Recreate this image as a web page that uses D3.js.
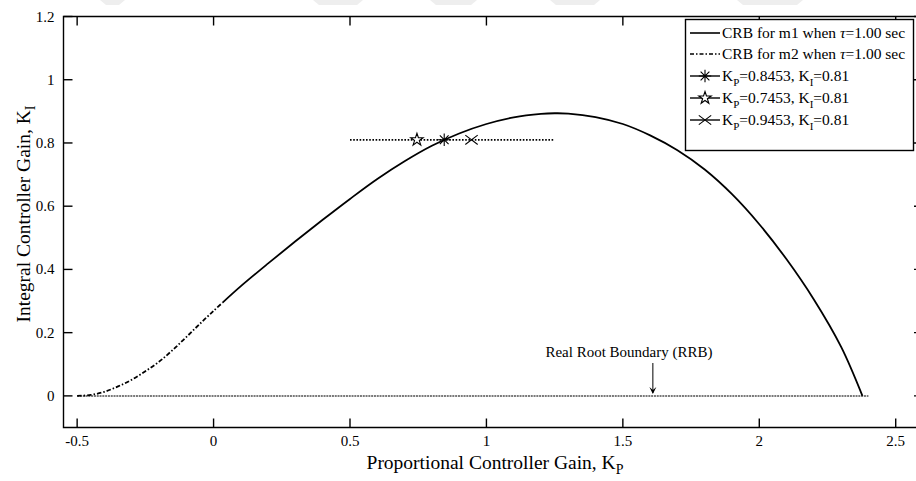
<!DOCTYPE html>
<html>
<head>
<meta charset="utf-8">
<script src="https://cdn.jsdelivr.net/npm/d3@7"></script>
<style>
  html, body { margin: 0; padding: 0; background: #fff; }
  svg { display: block; font-family: "Liberation Serif", "Times New Roman", serif; }
</style>
</head>
<body>
<svg id="chart" width="916" height="481"></svg>
<script>
// Stability boundary curves (Kp, Ki) for the two models
const crbM2 = [
  [-0.5, 0], [-0.45, 0.003], [-0.4, 0.013], [-0.35, 0.03], [-0.3, 0.051],
  [-0.25, 0.078], [-0.2, 0.108], [-0.15, 0.145], [-0.1, 0.186], [-0.05, 0.228],
  [0, 0.269], [0.033, 0.295]
];
const crbM1 = [
  [0.033, 0.295], [0.1, 0.347], [0.2, 0.419], [0.3, 0.489], [0.4, 0.557],
  [0.5, 0.623], [0.6, 0.686], [0.7, 0.742], [0.8, 0.791], [0.9, 0.83],
  [1.0, 0.86], [1.1, 0.881], [1.2, 0.892], [1.25, 0.894], [1.3, 0.893],
  [1.4, 0.882], [1.5, 0.86], [1.6, 0.824], [1.7, 0.777], [1.8, 0.716],
  [1.9, 0.638], [2.0, 0.543], [2.1, 0.432], [2.2, 0.305], [2.3, 0.155], [2.378, 0]
];
// Real root boundary (Ki = 0)
const rrbLine = [[-0.5, 0], [2.4, 0]];
// Sweep of Kp at fixed Ki
const sweepLine = [[0.5, 0.81], [1.25, 0.81]];
// Operating points
const pointsKp = [0.8453, 0.7453, 0.9453];
const pointsKi = [0.81, 0.81, 0.81];
const pointShapes = ["asterisk", "star", "cross"];

const xTicks = [-0.5, 0, 0.5, 1, 1.5, 2, 2.5];
const xTickLabels = ["-0.5", "0", "0.5", "1", "1.5", "2", "2.5"];
const yTicks = [0, 0.2, 0.4, 0.6, 0.8, 1, 1.2];
const yTickLabels = ["0", "0.2", "0.4", "0.6", "0.8", "1", "1.2"];
const xDomain = [-0.55, 2.6];
const yDomain = [-0.1, 1.2];

const svg = d3.select("#chart");
const plotL = 63.5, plotR = 923, plotT = 16.5, plotB = 427.5;
const x = d3.scaleLinear().domain(xDomain).range([plotL, plotR]);
const y = d3.scaleLinear().domain(yDomain).range([plotB, plotT]);

// faint background bands at the top edge
const bands = [[100, 125], [313, 363], [430, 477], [550, 600], [737, 803]];
svg.append("g").selectAll("path").data(bands).join("path")
  .attr("d", d => `M${d[0]},0 L${d[1]},0 L${d[1] - 6},5 L${d[0] + 6},5 Z`)
  .attr("fill", "#eeeeee");

const tickLen = 9;
const axes = svg.append("g").attr("stroke", "#000").attr("stroke-width", 1.4);
// ticks on all four sides, pointing inward
axes.selectAll(".xb").data(xTicks).join("line").attr("class", "xb")
  .attr("x1", d => x(d)).attr("x2", d => x(d))
  .attr("y1", plotB).attr("y2", plotB - tickLen);
axes.selectAll(".xt").data(xTicks).join("line").attr("class", "xt")
  .attr("x1", d => x(d)).attr("x2", d => x(d))
  .attr("y1", plotT).attr("y2", plotT + tickLen);
axes.selectAll(".yl").data(yTicks).join("line").attr("class", "yl")
  .attr("x1", plotL).attr("x2", plotL + tickLen)
  .attr("y1", d => y(d)).attr("y2", d => y(d));
axes.selectAll(".yr").data(yTicks).join("line").attr("class", "yr")
  .attr("x1", plotR).attr("x2", plotR - tickLen)
  .attr("y1", d => y(d)).attr("y2", d => y(d));
axes.append("path")
  .attr("fill", "none")
  .attr("d", `M${plotR},${plotT} L${plotL},${plotT} L${plotL},${plotB} L${plotR},${plotB}`);

// tick labels
svg.append("g").selectAll("text").data(xTicks).join("text")
  .attr("x", d => x(d)).attr("y", plotB + 18)
  .attr("text-anchor", "middle")
  .attr("font-size", 15).text((d, i) => xTickLabels[i]);
svg.append("g").selectAll("text").data(yTicks).join("text")
  .attr("x", plotL - 9).attr("y", d => y(d) + 5)
  .attr("text-anchor", "end")
  .attr("font-size", 15).text((d, i) => yTickLabels[i]);

// axis titles
const xt = svg.append("text").attr("x", 495).attr("y", 469)
  .attr("text-anchor", "middle").attr("font-size", 19.5);
xt.append("tspan").text("Proportional Controller Gain, K");
xt.append("tspan").attr("font-size", 14).attr("dy", 5).text("P");

const yt = svg.append("text")
  .attr("transform", "translate(30,214) rotate(-90)")
  .attr("text-anchor", "middle").attr("font-size", 19.5);
yt.append("tspan").text("Integral Controller Gain, K");
yt.append("tspan").attr("font-size", 14).attr("dy", 5).text("I");

const smooth = d3.line().x(d => x(d[0])).y(d => y(d[1])).curve(d3.curveCatmullRom);
const plain = d3.line().x(d => x(d[0])).y(d => y(d[1]));

// real root boundary
svg.append("path").attr("d", plain(rrbLine))
  .attr("fill", "none").attr("stroke", "#7a7a7a").attr("stroke-width", 2)
  .attr("stroke-dasharray", "2,0.8");

// stability boundaries
svg.append("path").attr("d", smooth(crbM2))
  .attr("fill", "none").attr("stroke", "#000").attr("stroke-width", 1.8)
  .attr("stroke-dasharray", "4.5,2,1.5,2");
svg.append("path").attr("d", smooth(crbM1))
  .attr("fill", "none").attr("stroke", "#000").attr("stroke-width", 1.8);

// Kp sweep at Ki = 0.81
svg.append("path").attr("d", plain(sweepLine))
  .attr("fill", "none").attr("stroke", "#000").attr("stroke-width", 1.8)
  .attr("stroke-dasharray", "1.6,1.6");

// marker glyphs
function markerPath(shape, r) {
  if (shape === "asterisk") {
    const p = d3.path();
    for (let k = 0; k < 4; k++) {
      const a = k * Math.PI / 4;
      p.moveTo(-r * Math.cos(a), -r * Math.sin(a));
      p.lineTo(r * Math.cos(a), r * Math.sin(a));
    }
    return p.toString();
  }
  if (shape === "cross") {
    const p = d3.path();
    p.moveTo(-r, -r * 0.75); p.lineTo(r, r * 0.75);
    p.moveTo(-r, r * 0.75); p.lineTo(r, -r * 0.75);
    return p.toString();
  }
  return d3.symbol(d3.symbolStar, r * r * 1.25)();
}
function drawMarker(g, shape, cx, cy) {
  g.append("path")
    .attr("transform", `translate(${cx},${cy})`)
    .attr("d", markerPath(shape, 6.2))
    .attr("fill", shape === "star" ? "#fff" : "none")
    .attr("stroke", "#000").attr("stroke-width", 1.1);
}
const pts = svg.append("g");
pointsKp.forEach((kp, i) => drawMarker(pts, pointShapes[i], x(kp), y(pointsKi[i])));

// annotation
svg.append("text").attr("x", 629).attr("y", 357)
  .attr("text-anchor", "middle").attr("font-size", 15)
  .text("Real Root Boundary (RRB)");
const ax = x(1.61);
svg.append("line")
  .attr("x1", ax).attr("x2", ax)
  .attr("y1", 363).attr("y2", y(0) - 3)
  .attr("stroke", "#000").attr("stroke-width", 1);
svg.append("path")
  .attr("d", `M${ax - 3.5},${y(0) - 9} L${ax},${y(0) - 2} L${ax + 3.5},${y(0) - 9} L${ax},${y(0) - 6} Z`)
  .attr("fill", "#000");

// legend
const legend = svg.append("g");
legend.append("rect").attr("x", 685.5).attr("y", 19.5).attr("width", 228).attr("height", 131)
  .attr("fill", "#fff").attr("stroke", "#000").attr("stroke-width", 1.4);
const rowY = [33, 54, 76, 98, 120];
const lx1 = 690, lx2 = 720, tx = 722;
const lfs = 15.5;
legend.append("line").attr("x1", lx1).attr("x2", lx2).attr("y1", rowY[0]).attr("y2", rowY[0])
  .attr("stroke", "#000").attr("stroke-width", 1.6);
legend.append("line").attr("x1", lx1).attr("x2", lx2).attr("y1", rowY[1]).attr("y2", rowY[1])
  .attr("stroke", "#000").attr("stroke-width", 1.6).attr("stroke-dasharray", "4,2,1.5,2");
const labelsTop = ["CRB for m1 when ", "CRB for m2 when "];
labelsTop.forEach((s, i) => {
  const t = legend.append("text").attr("x", tx).attr("y", rowY[i] + 5)
    .attr("font-size", lfs);
  t.append("tspan").text(s);
  t.append("tspan").attr("font-style", "italic").text("τ");
  t.append("tspan").text("=1.00 sec");
});
pointsKp.forEach((kp, i) => {
  const yy = rowY[i + 2];
  legend.append("line").attr("x1", lx1).attr("x2", lx2).attr("y1", yy).attr("y2", yy)
    .attr("stroke", "#000").attr("stroke-width", 1.4);
  drawMarker(legend, pointShapes[i], (lx1 + lx2) / 2, yy);
  const t = legend.append("text").attr("x", tx).attr("y", yy + 5)
    .attr("font-size", lfs);
  t.append("tspan").text("K");
  t.append("tspan").attr("font-size", 11).attr("dy", 5).text("P");
  t.append("tspan").attr("dy", -5).text("=" + kp.toFixed(4) + ", K");
  t.append("tspan").attr("font-size", 11).attr("dy", 5).text("I");
  t.append("tspan").attr("dy", -5).text("=" + pointsKi[i].toFixed(2));
});
</script>
</body>
</html>
